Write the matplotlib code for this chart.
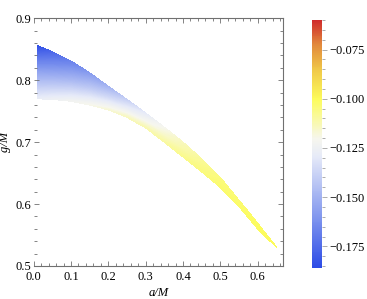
import numpy as np
import matplotlib
matplotlib.use("Agg")
import matplotlib.pyplot as plt
from matplotlib.colors import LinearSegmentedColormap, Normalize
from matplotlib.ticker import MultipleLocator, FixedLocator

# ---- data ----
a_vals = [0.01, 0.05, 0.10, 0.15, 0.20, 0.25, 0.30, 0.35, 0.40, 0.45,
          0.50, 0.55, 0.575, 0.60, 0.63, 0.651]
g_upper = [0.856, 0.846, 0.831, 0.812, 0.790, 0.769, 0.747, 0.724, 0.700,
           0.673, 0.643, 0.606, 0.588, 0.569, 0.546, 0.530]
g_lower = [0.770, 0.769, 0.766, 0.760, 0.752, 0.740, 0.723, 0.700, 0.676,
           0.652, 0.627, 0.596, 0.578, 0.560, 0.542, 0.530]
# field value along the lower edge, middle and upper edge of the band
v_lower = [-0.128, -0.126, -0.123, -0.120, -0.117, -0.114, -0.112, -0.110,
           -0.107, -0.105, -0.103, -0.102, -0.101, -0.101, -0.100, -0.100]
v_mid = [-0.155, -0.152, -0.147, -0.141, -0.135, -0.128, -0.122, -0.116,
         -0.111, -0.107, -0.104, -0.103, -0.102, -0.101, -0.100, -0.100]
v_upper = [-0.185, -0.177, -0.168, -0.159, -0.150, -0.140, -0.130, -0.121,
           -0.114, -0.109, -0.105, -0.103, -0.102, -0.101, -0.100, -0.100]
band_frac = [0.0, 0.5, 1.0]

x_ticks = [0.0, 0.1, 0.2, 0.3, 0.4, 0.5, 0.6]
y_ticks = [0.5, 0.6, 0.7, 0.8, 0.9]
cb_ticks = [-0.175, -0.150, -0.125, -0.100, -0.075]
vmin, vmax = -0.186, -0.060

# ---- colormap (TemperatureMap-like) ----
cmap = LinearSegmentedColormap.from_list("temp", [
    (0.00, "#2c4be6"),
    (0.20, "#7f95ee"),
    (0.45, "#e6eaf8"),
    (0.52, "#f6f6ee"),
    (0.68, "#fcfc5c"),
    (0.80, "#f0c848"),
    (0.90, "#e28a3c"),
    (1.00, "#d02c2c"),
])

plt.rcParams['font.family'] = ['Liberation Serif', 'DejaVu Serif']
plt.rcParams['axes.unicode_minus'] = True

fig = plt.figure(figsize=(3.67, 2.99), dpi=100)
ax = fig.add_axes([0.0918, 0.1104, 0.6785, 0.8284])

A = np.array(a_vals)
lo = np.array(g_lower)
up = np.array(g_upper)
T = np.array(band_frac)
X = np.repeat(A[:, None], len(T), axis=1)
Y = lo[:, None] + T[None, :] * (up - lo)[:, None]
V = np.stack([v_lower, v_mid, v_upper], axis=1)

levels = np.linspace(vmin, vmax, 260)
cs = ax.contourf(X, Y, V, levels=levels, cmap=cmap, vmin=vmin, vmax=vmax,
                 antialiased=False)
cs.set_rasterized(True)

ax.set_xlim(0.0, 0.667)
ax.set_ylim(0.5, 0.9)
ax.xaxis.set_major_locator(FixedLocator(x_ticks))
ax.yaxis.set_major_locator(FixedLocator(y_ticks))
ax.set_xticklabels([f"{t:.1f}" for t in x_ticks])
ax.set_yticklabels([f"{t:.1f}" for t in y_ticks])
ax.xaxis.set_minor_locator(MultipleLocator(0.02))
ax.yaxis.set_minor_locator(MultipleLocator(0.02))

spine_col = "#707070"
for s in ['top', 'right', 'bottom']:
    ax.spines[s].set_color(spine_col)
    ax.spines[s].set_linewidth(0.8)
ax.spines['left'].set_visible(False)

ax.tick_params(which='both', direction='in', top=True, right=True,
               color=spine_col, labelsize=9, width=0.6)
ax.tick_params(axis='x', pad=3.5)
ax.tick_params(axis='y', pad=2)
ax.tick_params(which='major', length=3.5)
ax.tick_params(which='minor', length=2)

ax.set_xlabel("a/M", fontstyle='italic', fontsize=9, labelpad=3)
ax.set_ylabel("g/M", fontstyle='italic', fontsize=9, labelpad=3)

# ---- colorbar ----
cax = fig.add_axes([0.851, 0.1037, 0.0272, 0.8293])
sm = matplotlib.cm.ScalarMappable(norm=Normalize(vmin, vmax), cmap=cmap)
cb = fig.colorbar(sm, cax=cax)
cb.outline.set_visible(False)
cb.set_ticks(cb_ticks)
cb.set_ticklabels([f"{t:.3f}".replace('-', '\u2212') for t in cb_ticks])
cax.yaxis.set_minor_locator(MultipleLocator(0.005))
cax.tick_params(which='both', direction='out', color="#a0a0a0", width=0.6,
                labelsize=9, pad=1.5)
cax.tick_params(which='major', length=3.5)
cax.tick_params(which='minor', length=2)

fig.savefig("out.png", dpi=100, facecolor='white')
